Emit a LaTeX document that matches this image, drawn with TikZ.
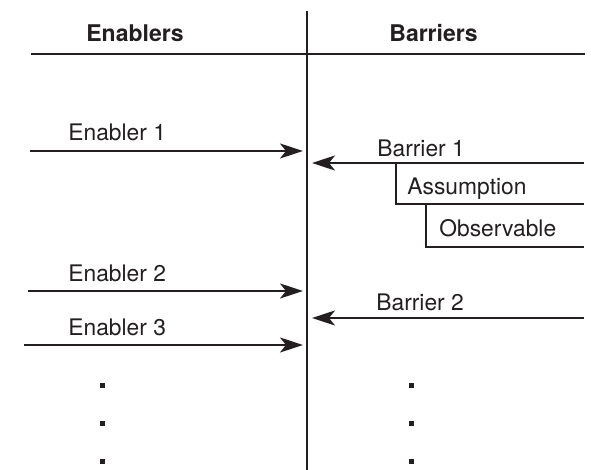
\documentclass[tikz,border=0pt]{standalone}
\usepackage{fontspec}
\setmainfont{TeX Gyre Heros}
\usetikzlibrary{arrows.meta}
\begin{document}
\begin{tikzpicture}[x=0.5pt,y=-0.5pt,
  rule/.style={line width=1.1pt, draw={rgb,255:red,35;green,31;blue,32}},
  arr/.style={rule, -{Stealth[length=11.5pt,width=7.5pt,inset=3pt]}},
  lab/.style={anchor=base west, inner sep=0pt, font=\fontsize{11.4}{13}\selectfont, text={rgb,255:red,35;green,31;blue,32}},
  head/.style={lab, font=\fontsize{11.5}{13}\selectfont\bfseries},
  dot/.style={fill={rgb,255:red,35;green,31;blue,32}, minimum size=2.5pt, inner sep=0pt}]
\useasboundingbox (0,0) rectangle (591,470);
% frame
\coordinate (vt) at (307,11);
\coordinate (vb) at (307,470);
\coordinate (hl) at (31,54);
\coordinate (hr) at (585,54);
\draw[rule] (vt) -- (vb);
\draw[rule] (hl) -- (hr);
\node[head] (en) at (86,42) {Enablers};
\node[head] (ba) at (389,42) {Barriers};
% enablers
\coordinate (e1s) at (30,151);  \coordinate (e1t) at (303,151);
\coordinate (e2s) at (28,291);  \coordinate (e2t) at (303,291);
\coordinate (e3s) at (24,345);  \coordinate (e3t) at (303,345);
\draw[arr] (e1s) -- (e1t);
\draw[arr] (e2s) -- (e2t);
\draw[arr] (e3s) -- (e3t);
\node[lab] (e1) at (68,141) {Enabler 1};
\node[lab] (e2) at (68,282) {Enabler 2};
\node[lab] (e3) at (68,336) {Enabler 3};
% barriers
\coordinate (b1s) at (584,163); \coordinate (b1t) at (312,163);
\coordinate (b2s) at (584,318); \coordinate (b2t) at (312,318);
\draw[arr] (b1s) -- (b1t);
\draw[arr] (b2s) -- (b2t);
\node[lab] (b1) at (377,157) {Barrier 1};
\node[lab] (b2) at (376,311) {Barrier 2};
% assumption / observable brackets
\coordinate (as) at (396,163); \coordinate (ac) at (396,204); \coordinate (ae) at (584,204);
\coordinate (os) at (426,204); \coordinate (oc) at (426,247); \coordinate (oe) at (584,247);
\draw[rule] (as) -- (ac) -- (ae);
\draw[rule] (os) -- (oc) -- (oe);
\node[lab] (am) at (407,195) {Assumption};
\node[lab] (ob) at (439,237) {Observable};
% dots
\foreach \y/\n in {386/a,424/b,462/c}{
  \node[dot] (l\n) at (103,\y) {};
  \node[dot] (r\n) at (412,\y) {};
}
\end{tikzpicture}
\end{document}
